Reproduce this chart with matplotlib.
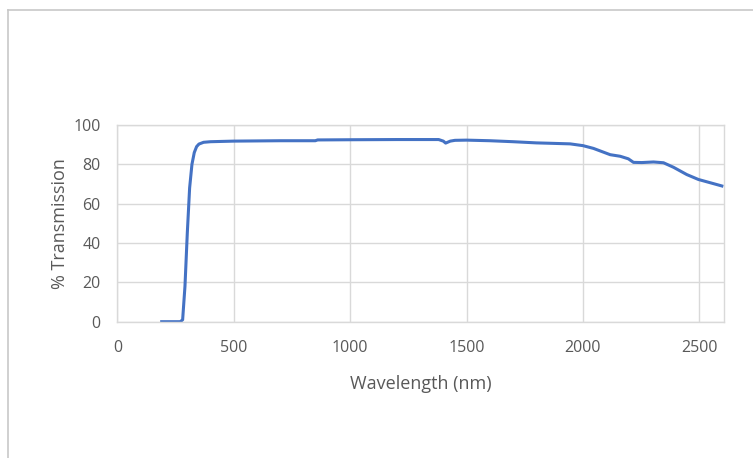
import matplotlib
matplotlib.use("Agg")
import matplotlib.pyplot as plt
from matplotlib.lines import Line2D

wavelength = [190, 250, 270, 280, 290, 300, 310, 320, 330, 340, 350, 370, 400, 500, 600, 700, 850, 860,
              1000, 1200, 1380, 1400, 1410, 1430, 1450, 1500, 1600, 1700, 1800, 1860, 1945, 2000,
              2045, 2081, 2117, 2160, 2195, 2217, 2253, 2303, 2346, 2389, 2446, 2496, 2597]
transmission = [0, 0, 0, 1, 18, 45, 68, 80, 86, 89, 90.3, 91.2, 91.5, 91.8, 91.9, 92.0, 92.0, 92.4,
                92.5, 92.6, 92.6, 91.8, 90.8, 91.8, 92.2, 92.3, 92.0, 91.5, 90.9, 90.7, 90.4, 89.5,
                88.1, 86.5, 84.9, 84.1, 82.8, 81.0, 80.9, 81.2, 80.8, 78.5, 74.8, 72.3, 69.0]

xticks = [0, 500, 1000, 1500, 2000, 2500]
yticks = [0, 20, 40, 60, 80, 100]

plt.rcParams['font.family'] = ['Open Sans', 'DejaVu Sans']
text_color = '#595959'
grid_color = '#D9D9D9'

fig = plt.figure(figsize=(7.53, 4.58), dpi=100)
ax = fig.add_axes([0.156, 0.2976, 0.8055, 0.4295])

ax.plot(wavelength, transmission, color='#4472C4', linewidth=2.2, solid_joinstyle='round')
ax.set_xlim(0, 2606)
ax.set_ylim(0, 100)
ax.set_xticks(xticks)
ax.set_yticks(yticks)
ax.grid(True, color=grid_color, linewidth=1)
ax.set_axisbelow(True)
for s in ax.spines.values():
    s.set_color(grid_color)
    s.set_linewidth(1)
ax.tick_params(length=0, labelsize=11.5, colors=text_color, pad=12)
ax.tick_params(axis='x', pad=13.5)
ax.set_xlabel('Wavelength (nm)', fontsize=13, color=text_color, labelpad=13)
ax.set_ylabel('% Transmission', fontsize=13, color=text_color, labelpad=3)

# outer chart frame (left and top edges visible)
fig.add_artist(Line2D([0.0106, 0.0106], [0, 0.978], transform=fig.transFigure, color='#C8C8C8', linewidth=1.2))
fig.add_artist(Line2D([0.0106, 1.0], [0.978, 0.978], transform=fig.transFigure, color='#C8C8C8', linewidth=1.2))

fig.savefig('out.png', dpi=100)
